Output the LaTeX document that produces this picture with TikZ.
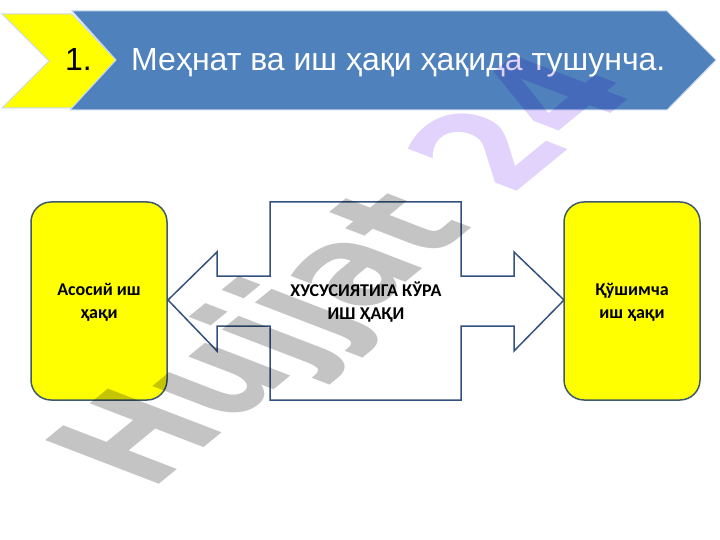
\documentclass[tikz,border=0pt]{standalone}
\usepackage{fontspec}
\setmainfont{Carlito}
\newfontfamily\headfont{Liberation Sans}
\newfontfamily\markfont{DejaVu Sans}
\usetikzlibrary{shapes,backgrounds}
\definecolor{headblue}{HTML}{4F81BD}
\definecolor{headedge}{HTML}{C9D9EC}
\definecolor{sideedge}{HTML}{3F5A68}
\definecolor{sidefill}{HTML}{FFFF00}
\definecolor{arrowedge}{HTML}{33527F}
\definecolor{markgray}{HTML}{C4C4C4}
\definecolor{markviolet}{HTML}{E1D3FB}
\tikzset{
    sidebox/.style={draw=sideedge,fill=sidefill,line width=1.5pt,rounded corners=20pt},
    sidetext/.style={font=\fontsize{18}{23}\selectfont\bfseries,align=center,text=black},
    headtext/.style={font=\headfont\fontsize{32}{34}\selectfont,inner sep=0pt,anchor=base west}
}
\begin{document}
\begin{tikzpicture}[x=1pt,y=-1pt]
                \useasboundingbox (0,0) rectangle (720,540);
                \fill[white] (0,0) rectangle (720,540);
                \draw[fill=sidefill,draw=headedge,line width=1pt] (2,14) -- (72,14) -- (116,60) -- (72,108) -- (2,108) -- (49,61) -- cycle;
                \draw[fill=headblue,draw=headedge,line width=1pt] (72,11) -- (667,11) -- (716,60) -- (667,110) -- (70,110) -- (116,60) -- cycle;
                \node[headtext,text=black] (num) at (65,71) {1.};
                \node[headtext,text=white] (title) at (131,71) {Меҳнат ва иш ҳақи ҳақида тушунча.};
                \draw[sidebox] (31,202) rectangle (167,400);
                \draw[sidebox] (564,202) rectangle (700,400);
                \draw[draw=arrowedge,fill=white,line width=1.5pt] (168,300) -- (217,252) -- (217,276) -- (270,276) -- (270,202)
                    -- (461,202) -- (461,276) -- (514,276) -- (514,252) -- (564,300) -- (514,351) -- (514,326) -- (461,326)
                    -- (461,400) -- (270,400) -- (270,326) -- (217,326) -- (217,351) -- cycle;
                \node[sidetext] (basic) at (99,302) {Асосий иш\\ҳақи};
                \node[sidetext] (extra) at (632,302) {Қўшимча\\иш ҳақи};
                \node[sidetext] (middle) at (366,302) {ХУСУСИЯТИГА КЎРА\\ИШ ҲАҚИ};
                \begin{scope}[blend mode=multiply]
                \node[cm={2.4,1.97,-3.9,1.5,(150,492)},transform shape,anchor=base west,inner sep=0pt,
                    font=\markfont\bfseries\fontsize{40}{40}\selectfont] (mark) at (0,0) {\textcolor{markgray}{Hujjat} \textcolor{markviolet}{24}};
                \end{scope}
            \end{tikzpicture}
\end{document}
